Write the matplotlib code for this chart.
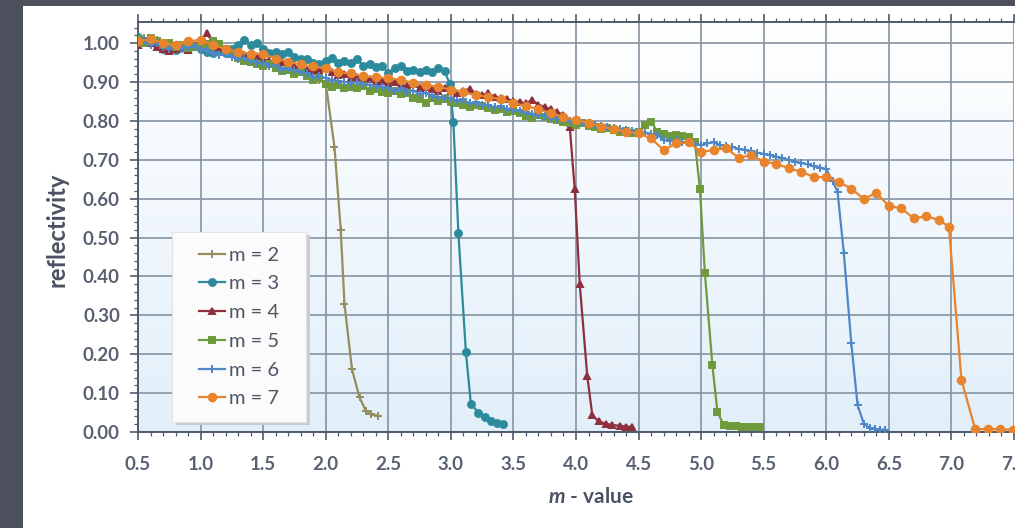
import numpy as np
import matplotlib.pyplot as plt
from matplotlib.patches import Rectangle
from matplotlib.ticker import MultipleLocator, FormatStrFormatter

plt.rcParams["font.family"] = ["Lato", "DejaVu Sans"]
plt.rcParams["mathtext.fontset"] = "custom"
plt.rcParams["mathtext.it"] = "Lato:italic:bold"

# reflectivity readings; plateau part starts at m = 0.5 with a fixed step,
# the cut-off part is listed point by point
m2_step = 0.05
m2_flat = [1.000, 1.012, 1.000, 1.008, 0.990, 0.985, 0.992, 0.990, 1.002, 0.996,
           0.990, 0.995, 0.985, 0.978, 0.982, 0.972, 0.968, 0.970, 0.958, 0.960,
           0.952, 0.948, 0.945, 0.935, 0.938, 0.928, 0.925, 0.918, 0.912, 0.905,
           0.898]
m2_drop_x = [2.07, 2.12, 2.15, 2.21, 2.27, 2.32, 2.36, 2.42]
m2_drop_y = [0.733, 0.519, 0.329, 0.161, 0.089, 0.055, 0.045, 0.042]

m3_step = 0.05
m3_flat = [1.015, 1.005, 1.010, 0.995, 0.985, 0.990, 0.982, 0.990, 0.985, 0.992,
           0.985, 0.978, 0.975, 0.982, 0.975, 0.985, 0.995, 1.008, 0.995, 1.000,
           0.985, 0.975, 0.978, 0.972, 0.978, 0.965, 0.958, 0.960, 0.950, 0.945,
           0.955, 0.962, 0.950, 0.955, 0.948, 0.960, 0.940, 0.945, 0.938, 0.942,
           0.922, 0.935, 0.940, 0.928, 0.930, 0.926, 0.932, 0.926, 0.935, 0.928]
m3_drop_x = [2.99, 3.02, 3.06, 3.12, 3.16, 3.22, 3.27, 3.32, 3.37, 3.42]
m3_drop_y = [0.896, 0.798, 0.512, 0.206, 0.072, 0.050, 0.038, 0.028, 0.022, 0.020]

m4_step = 0.05
m4_flat = [0.995, 1.005, 1.000, 0.990, 0.985, 0.980, 0.985, 0.990, 0.982, 0.995,
           1.005, 1.025, 1.000, 0.990, 0.985, 0.975, 0.978, 0.970, 0.965, 0.968,
           0.958, 0.955, 0.948, 0.952, 0.942, 0.940, 0.935, 0.932, 0.928, 0.930,
           0.935, 0.925, 0.918, 0.920, 0.910, 0.912, 0.905, 0.908, 0.900, 0.902,
           0.895, 0.900, 0.892, 0.890, 0.895, 0.885, 0.888, 0.882, 0.878, 0.885,
           0.878, 0.872, 0.876, 0.883, 0.870, 0.866, 0.871, 0.862, 0.858, 0.855,
           0.852, 0.848, 0.845, 0.853, 0.842, 0.835, 0.830, 0.823, 0.815]
m4_drop_x = [3.95, 3.99, 4.03, 4.09, 4.13, 4.18, 4.24, 4.29, 4.35, 4.40, 4.45]
m4_drop_y = [0.785, 0.624, 0.380, 0.144, 0.044, 0.027, 0.021, 0.018, 0.016, 0.014, 0.013]

m5_step = 0.05
m5_flat = [1.010, 1.000, 1.012, 1.005, 0.995, 1.000, 0.990, 0.995, 0.988, 0.990,
           0.992, 0.998, 1.005, 0.998, 0.985, 0.972, 0.962, 0.955, 0.952, 0.945,
           0.940, 0.945, 0.935, 0.928, 0.932, 0.920, 0.925, 0.915, 0.905, 0.910,
           0.895, 0.888, 0.892, 0.884, 0.888, 0.885, 0.890, 0.878, 0.882, 0.875,
           0.871, 0.878, 0.868, 0.872, 0.860, 0.855, 0.845, 0.858, 0.850, 0.855,
           0.848, 0.845, 0.840, 0.836, 0.842, 0.838, 0.832, 0.828, 0.830, 0.823,
           0.826, 0.820, 0.812, 0.807, 0.815, 0.810, 0.804, 0.802, 0.798, 0.794,
           0.790, 0.795, 0.788, 0.785, 0.780, 0.782, 0.776, 0.772, 0.775, 0.768,
           0.772, 0.790, 0.798, 0.772, 0.765, 0.762, 0.764, 0.760, 0.758, 0.745]
m5_drop_x = [4.99, 5.03, 5.09, 5.13, 5.18, 5.23, 5.28, 5.33, 5.38, 5.43, 5.47]
m5_drop_y = [0.626, 0.408, 0.171, 0.052, 0.018, 0.016, 0.015, 0.014, 0.013, 0.013, 0.012]

m6_step = 0.05
m6_flat = [1.000, 1.005, 0.995, 1.000, 0.990, 0.985, 0.990, 0.985, 0.990, 0.992,
           0.985, 0.980, 0.975, 0.970, 0.972, 0.965, 0.960, 0.962, 0.955, 0.950,
           0.948, 0.940, 0.944, 0.932, 0.935, 0.930, 0.925, 0.922, 0.912, 0.915,
           0.910, 0.905, 0.902, 0.900, 0.898, 0.900, 0.895, 0.892, 0.890, 0.888,
           0.885, 0.878, 0.884, 0.875, 0.878, 0.868, 0.872, 0.865, 0.862, 0.858,
           0.858, 0.850, 0.855, 0.845, 0.848, 0.840, 0.842, 0.835, 0.838, 0.830,
           0.828, 0.825, 0.822, 0.818, 0.815, 0.812, 0.808, 0.805, 0.802, 0.800,
           0.798, 0.795, 0.792, 0.790, 0.787, 0.784, 0.782, 0.780, 0.777, 0.774,
           0.772, 0.770, 0.766, 0.763, 0.752, 0.748, 0.750, 0.745, 0.742, 0.740,
           0.738, 0.742, 0.745, 0.738, 0.735, 0.733, 0.728, 0.725, 0.722, 0.718,
           0.715, 0.712, 0.708, 0.705, 0.700, 0.695, 0.692, 0.688, 0.683, 0.680,
           0.676, 0.645]
m6_drop_x = [6.09, 6.14, 6.20, 6.25, 6.30, 6.35, 6.39, 6.43, 6.47]
m6_drop_y = [0.618, 0.461, 0.228, 0.069, 0.021, 0.010, 0.007, 0.006, 0.006]

m7_step = 0.1
m7_flat = [1.005, 1.010, 1.000, 0.995, 1.005, 1.008, 0.995, 0.985, 0.978, 0.972,
           0.972, 0.960, 0.952, 0.945, 0.940, 0.935, 0.925, 0.922, 0.915, 0.912,
           0.910, 0.905, 0.898, 0.892, 0.888, 0.880, 0.874, 0.866, 0.862, 0.855,
           0.846, 0.838, 0.830, 0.820, 0.810, 0.802, 0.795, 0.785, 0.780, 0.772,
           0.768, 0.755, 0.725, 0.742, 0.745, 0.720, 0.725, 0.730, 0.705, 0.712,
           0.695, 0.690, 0.678, 0.669, 0.656, 0.655, 0.643, 0.626, 0.599, 0.615,
           0.581, 0.575, 0.549, 0.555, 0.545]
m7_drop_x = [6.98, 7.08, 7.19, 7.29, 7.39, 7.49]
m7_drop_y = [0.528, 0.134, 0.007, 0.008, 0.007, 0.006]

series = [
    ("m = 2", m2_step, m2_flat, m2_drop_x, m2_drop_y, "#958d5e", "+", 6),
    ("m = 3", m3_step, m3_flat, m3_drop_x, m3_drop_y, "#2b8a9c", "o", 5),
    ("m = 4", m4_step, m4_flat, m4_drop_x, m4_drop_y, "#8e2f3e", "^", 5),
    ("m = 5", m5_step, m5_flat, m5_drop_x, m5_drop_y, "#6f9a3c", "s", 5),
    ("m = 6", m6_step, m6_flat, m6_drop_x, m6_drop_y, "#4f87c7", "+", 5.5),
    ("m = 7", m7_step, m7_flat, m7_drop_x, m7_drop_y, "#e8842d", "o", 5.5),
]

TXT = "#5a6272"
AXC = "#4f5a6a"

fig = plt.figure(figsize=(10.15, 5.28), dpi=100, facecolor="#4d505d")
fig.add_artist(Rectangle((23 / 1015, 0), 1, 522 / 528, transform=fig.transFigure,
                         facecolor="white", edgecolor="none", zorder=0))

ax = fig.add_axes([138 / 1015, 96 / 528, 876 / 1015, 410.3 / 528])
ax.set_facecolor("none")

# soft white -> light blue fill of the plot area
grad = np.linspace(1, 0, 256).reshape(-1, 1, 1)
top = np.array([1.0, 1.0, 1.0])
bot = np.array([0.885, 0.937, 0.978])
img = np.clip(top * grad + bot * (1 - grad), 0, 1)
ax.imshow(img, extent=[0.5, 7.5, 0, 1.055], aspect="auto", zorder=-1, origin="upper")

for label, step, flat, dx, dy, color, mk, ms in series:
    x = np.concatenate([0.5 + step * np.arange(len(flat)), dx])
    y = np.concatenate([flat, dy])
    ax.plot(x, y, color=color, lw=1.6, marker=mk, ms=ms, mew=1.4,
            label=label, zorder=3)

ax.set_xlim(0.5, 7.5)
ax.set_ylim(0, 1.055)
ax.xaxis.set_major_locator(MultipleLocator(0.5))
ax.xaxis.set_minor_locator(MultipleLocator(0.1))
ax.yaxis.set_major_locator(MultipleLocator(0.1))
ax.yaxis.set_minor_locator(MultipleLocator(0.02))
ax.xaxis.set_major_formatter(FormatStrFormatter("%.1f"))
ax.yaxis.set_major_formatter(FormatStrFormatter("%.2f"))

ax.grid(which="major", color="#8593a2", lw=1.2)
ax.set_axisbelow(True)
for s in ["left", "bottom", "top"]:
    ax.spines[s].set_color(AXC)
    ax.spines[s].set_linewidth(1.4)
ax.spines["right"].set_visible(False)
ax.tick_params(which="both", direction="out", colors=AXC, top=True, labeltop=False)
ax.tick_params(which="major", length=6, width=1.2)
ax.tick_params(which="minor", length=3, width=0.9)
ax.tick_params(axis="x", which="major", pad=11, labelsize=13.5, labelcolor=TXT)
ax.tick_params(axis="y", which="major", pad=7, labelsize=13.5, labelcolor=TXT)
for t in ax.get_xticklabels() + ax.get_yticklabels():
    t.set_fontweight("bold")

fig.text(57 / 1015, 1 - 230 / 528, "reflectivity", rotation=90, ha="center", va="center",
         fontsize=17, fontweight="bold", color="#4a5263")
fig.text(591 / 1015, 1 - 497 / 528, r"$m$ - value", ha="center", va="center",
         fontsize=15, fontweight="bold", color="#4a5263")

# legend box with a light drop shadow
x0, x1 = (172 - 138) / 876, (306 - 138) / 876
y0, y1 = (432 - 422) / 410.3, (432 - 232) / 410.3
ax.add_patch(Rectangle((x0 + 0.004, y0 - 0.008), x1 - x0, y1 - y0, transform=ax.transAxes,
                       facecolor="#c9ccd2", edgecolor="none", zorder=4))
ax.add_patch(Rectangle((x0, y0), x1 - x0, y1 - y0, transform=ax.transAxes,
                       facecolor="#fbfbfb", edgecolor="#e2e4e8", lw=0.8, zorder=4.5))
leg = ax.legend(loc="center", bbox_to_anchor=((x0 + x1) / 2, (y0 + y1) / 2),
                frameon=False, fontsize=14.5, handlelength=1.3, handletextpad=0.2,
                labelspacing=0.58, borderpad=0)
leg.set_zorder(5)
for t in leg.get_texts():
    t.set_color("#4e5666")

fig.savefig("out.png", dpi=100, facecolor=fig.get_facecolor())
